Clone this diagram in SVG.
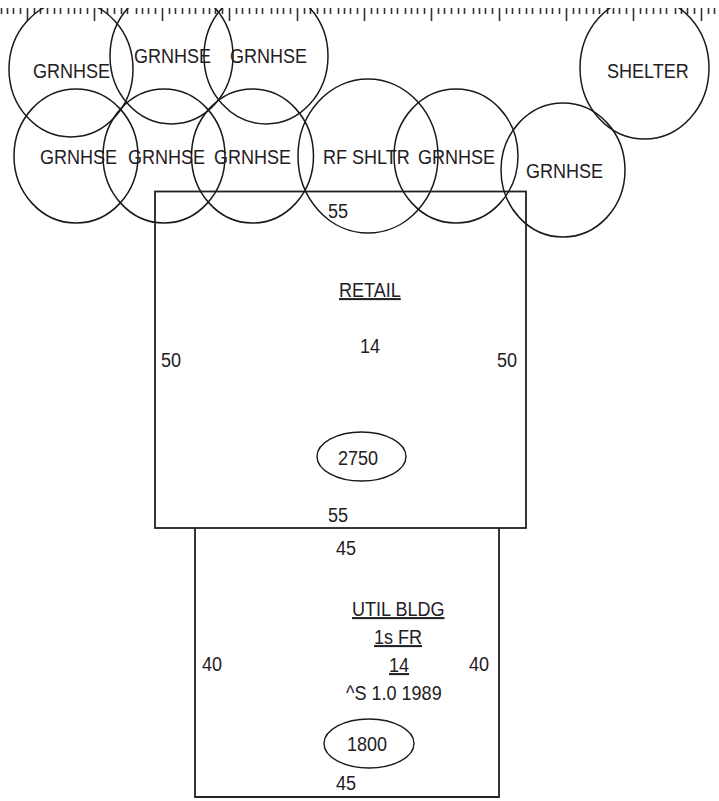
<svg xmlns="http://www.w3.org/2000/svg" width="719" height="801" viewBox="0 0 719 801">
<style>
.s{fill:none;stroke:#1a1a1a;stroke-width:1.5}
.e{fill:none;stroke:#1a1a1a;stroke-width:1.4}
.r{fill:none;stroke:#222;stroke-width:1.8}
.t{font-family:"Liberation Sans",Arial,sans-serif;font-size:20.5px;fill:#1f2024}
.u{text-decoration:underline}
.k{fill:none;stroke:#333;stroke-width:1.6}
</style>
<defs>
<clipPath id="c"><rect x="0" y="8" width="719" height="793"/></clipPath>
<path id="rt" class="k" d="M1.5 8V14M7.5 8V14M13.5 8V14M20.5 8V14M27.5 8V21M34.5 8V14M40.5 8V14M47.5 8V14M54.5 8V14M60.5 8V14"/>
</defs>
<rect width="719" height="801" fill="#fff"/>
<g id="ruler">
<use href="#rt"/><use href="#rt" x="67"/><use href="#rt" x="135"/><use href="#rt" x="202"/><use href="#rt" x="270"/><use href="#rt" x="337"/><use href="#rt" x="404"/><use href="#rt" x="472"/><use href="#rt" x="539"/><use href="#rt" x="606"/><use href="#rt" x="674"/>
</g>
<g id="connectors"/>
<g id="retail">
<rect class="r" x="155" y="191.5" width="371" height="336.5"/>
<text class="t" transform="translate(328 218) scale(.88 1)">55</text>
<text class="t u" transform="translate(339 297) scale(.88 1)">RETAIL</text>
<text class="t" transform="translate(360 353) scale(.88 1)">14</text>
<text class="t" transform="translate(161 367) scale(.88 1)">50</text>
<text class="t" transform="translate(497 367) scale(.88 1)">50</text>
<ellipse class="e" cx="361.5" cy="456.5" rx="44.5" ry="24.5"/>
<text class="t" transform="translate(338 465) scale(.88 1)">2750</text>
<text class="t" transform="translate(328 522) scale(.88 1)">55</text>
</g>
<g id="util-bldg">
<path class="r" d="M195 528V797H499V528"/>
<text class="t" transform="translate(336 555) scale(.88 1)">45</text>
<text class="t u" transform="translate(352 616) scale(.88 1)">UTIL BLDG</text>
<text class="t u" transform="translate(374 644) scale(.88 1)">1s FR</text>
<text class="t u" transform="translate(389 672) scale(.88 1)">14</text>
<text class="t" transform="translate(346 700) scale(.88 1)">^S 1.0 1989</text>
<text class="t" transform="translate(202 671) scale(.88 1)">40</text>
<text class="t" transform="translate(469 671) scale(.88 1)">40</text>
<ellipse class="e" cx="369" cy="743.5" rx="45" ry="24.5"/>
<text class="t" transform="translate(347 751) scale(.88 1)">1800</text>
<text class="t" transform="translate(336 790) scale(.88 1)">45</text>
</g>
<g id="grnhse-1"><ellipse class="s" clip-path="url(#c)" cx="71" cy="69" rx="62" ry="68"/><text class="t" transform="translate(33 78) scale(.88 1)">GRNHSE</text></g>
<g id="grnhse-2"><ellipse class="s" clip-path="url(#c)" cx="171.5" cy="56" rx="61.5" ry="68"/><text class="t" transform="translate(134 63) scale(.88 1)">GRNHSE</text></g>
<g id="grnhse-3"><ellipse class="s" clip-path="url(#c)" cx="266" cy="56" rx="62" ry="68"/><text class="t" transform="translate(230 63) scale(.88 1)">GRNHSE</text></g>
<g id="grnhse-4"><ellipse class="s" cx="76" cy="156" rx="62" ry="67"/><text class="t" transform="translate(40 164) scale(.88 1)">GRNHSE</text></g>
<g id="grnhse-5"><ellipse class="s" cx="164" cy="156" rx="61" ry="67"/><text class="t" transform="translate(128 164) scale(.88 1)">GRNHSE</text></g>
<g id="grnhse-6"><ellipse class="s" cx="252.5" cy="156" rx="61" ry="67"/><text class="t" transform="translate(214 164) scale(.88 1)">GRNHSE</text></g>
<g id="rf-shltr"><ellipse class="s" cx="368" cy="156" rx="70" ry="77"/><text class="t" transform="translate(323 164) scale(.88 1)">RF SHLTR</text></g>
<g id="grnhse-7"><ellipse class="s" cx="456" cy="156" rx="62" ry="67"/><text class="t" transform="translate(418 164) scale(.88 1)">GRNHSE</text></g>
<g id="grnhse-8"><ellipse class="s" cx="563" cy="170" rx="62" ry="67"/><text class="t" transform="translate(526 178) scale(.88 1)">GRNHSE</text></g>
<g id="shelter"><ellipse class="s" clip-path="url(#c)" cx="644.5" cy="68" rx="64.5" ry="71"/><text class="t" transform="translate(607 78) scale(.88 1)">SHELTER</text></g>
</svg>
